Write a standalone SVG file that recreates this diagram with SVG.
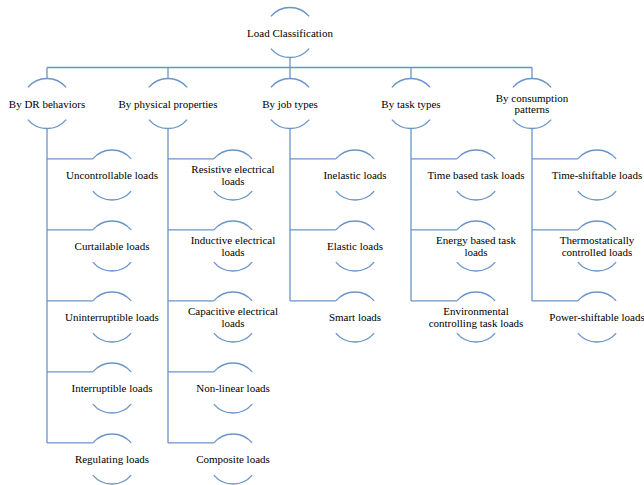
<svg xmlns="http://www.w3.org/2000/svg" xmlns:xlink="http://www.w3.org/1999/xlink" width="644" height="485" viewBox="0 0 644 485">
<style>
.ln{fill:none;stroke:#6a94c8;stroke-width:1.3}
text{font-family:'Liberation Serif','Times New Roman',serif;font-size:11px;fill:#000;text-anchor:middle}
</style>
<defs>
<path id="arcs" class="ln" d="M-19.15,-16.07 A25,25 0 0 1 19.15,-16.07 M19.15,16.07 A25,25 0 0 1 -19.15,16.07"/>
</defs>
<rect width="644" height="485" fill="#fff"/>
<g id="connectors" class="ln">
<path d="M290,57.5V67.5M47,67.5H532M47,67.5V78.5M168,67.5V78.5M290,67.5V78.5M411,67.5V78.5M532,67.5V78.5"/>
<path d="M47,128.5V442.9M47,158.9H92.85M47,229.9H92.85M47,300.9H92.85M47,371.9H92.85M47,442.9H92.85"/>
<path d="M168,128.5V442.9M168,158.9H213.85M168,229.9H213.85M168,300.9H213.85M168,371.9H213.85M168,442.9H213.85"/>
<path d="M290,128.5V300.9M290,158.9H335.85M290,229.9H335.85M290,300.9H335.85"/>
<path d="M411,128.5V300.9M411,158.9H456.85M411,229.9H456.85M411,300.9H456.85"/>
<path d="M532,128.5V300.9M532,158.9H577.85M532,229.9H577.85M532,300.9H577.85"/>
</g>
<g id="root"><use xlink:href="#arcs" x="290" y="32.5"/><text x="290" y="36.5">Load Classification</text></g>
<g id="dr"><use xlink:href="#arcs" x="47" y="103.5"/><text x="47" y="107.5">By DR behaviors</text></g>
<g id="phys"><use xlink:href="#arcs" x="168" y="103.5"/><text x="168" y="107.5">By physical properties</text></g>
<g id="job"><use xlink:href="#arcs" x="290" y="103.5"/><text x="290" y="107.5">By job types</text></g>
<g id="task"><use xlink:href="#arcs" x="411" y="103.5"/><text x="411" y="107.5">By task types</text></g>
<g id="cons"><use xlink:href="#arcs" x="532" y="103.5"/><text x="532" y="101.7">By consumption</text><text x="532" y="113.2">patterns</text></g>

<g id="dr1"><use xlink:href="#arcs" x="112" y="175"/><text x="112" y="179">Uncontrollable loads</text></g>
<g id="dr2"><use xlink:href="#arcs" x="112" y="246"/><text x="112" y="250">Curtailable loads</text></g>
<g id="dr3"><use xlink:href="#arcs" x="112" y="317"/><text x="112" y="321">Uninterruptible loads</text></g>
<g id="dr4"><use xlink:href="#arcs" x="112" y="388"/><text x="112" y="392">Interruptible loads</text></g>
<g id="dr5"><use xlink:href="#arcs" x="112" y="459"/><text x="112" y="463">Regulating loads</text></g>

<g id="ph1"><use xlink:href="#arcs" x="233" y="175"/><text x="233" y="173.2">Resistive electrical</text><text x="233" y="184.7">loads</text></g>
<g id="ph2"><use xlink:href="#arcs" x="233" y="246"/><text x="233" y="244.2">Inductive electrical</text><text x="233" y="255.7">loads</text></g>
<g id="ph3"><use xlink:href="#arcs" x="233" y="317"/><text x="233" y="315.2">Capacitive electrical</text><text x="233" y="326.7">loads</text></g>
<g id="ph4"><use xlink:href="#arcs" x="233" y="388"/><text x="233" y="392">Non-linear loads</text></g>
<g id="ph5"><use xlink:href="#arcs" x="233" y="459"/><text x="233" y="463">Composite loads</text></g>

<g id="jb1"><use xlink:href="#arcs" x="355" y="175"/><text x="355" y="179">Inelastic loads</text></g>
<g id="jb2"><use xlink:href="#arcs" x="355" y="246"/><text x="355" y="250">Elastic loads</text></g>
<g id="jb3"><use xlink:href="#arcs" x="355" y="317"/><text x="355" y="321">Smart loads</text></g>

<g id="tk1"><use xlink:href="#arcs" x="476" y="175"/><text x="476" y="179">Time based task loads</text></g>
<g id="tk2"><use xlink:href="#arcs" x="476" y="246"/><text x="476" y="244.2">Energy based task</text><text x="476" y="255.7">loads</text></g>
<g id="tk3"><use xlink:href="#arcs" x="476" y="317"/><text x="476" y="315.2">Environmental</text><text x="476" y="326.7">controlling task loads</text></g>

<g id="cs1"><use xlink:href="#arcs" x="597" y="175"/><text x="597" y="179">Time-shiftable loads</text></g>
<g id="cs2"><use xlink:href="#arcs" x="597" y="246"/><text x="597" y="244.2">Thermostatically</text><text x="597" y="255.7">controlled loads</text></g>
<g id="cs3"><use xlink:href="#arcs" x="597" y="317"/><text x="597" y="321">Power-shiftable loads</text></g>
</svg>
